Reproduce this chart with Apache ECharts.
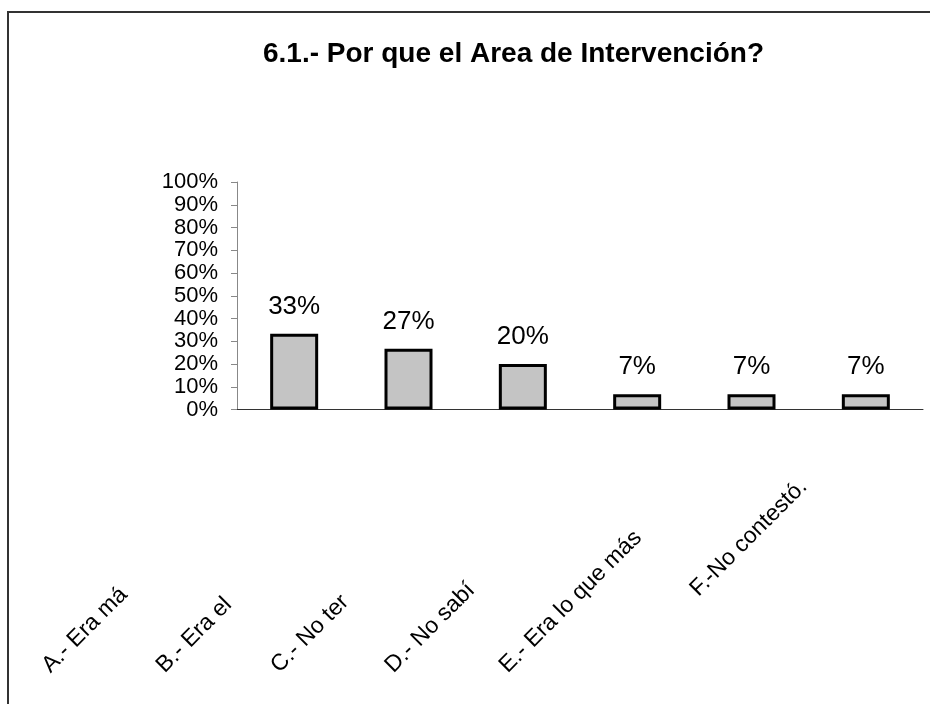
<!DOCTYPE html>
<html lang="es">
<head>
    <meta charset="UTF-8">
    <title>6.1.- Por que el Area de Intervención?</title>
    <style>
        body { margin: 0; background: #fff; }
        #frame {
            position: absolute;
            left: 7px;
            top: 11px;
            width: 940px;
            height: 720px;
            border-left: 2px solid #333;
            border-top: 2px solid #333;
        }
        #chart {
            position: absolute;
            left: 0;
            top: 0;
            width: 930px;
            height: 704px;
        }
    </style>
</head>
<body>
    <div id="frame"></div>
    <div id="chart"></div>
    <script src="https://cdn.jsdelivr.net/npm/echarts@6/dist/echarts.min.js"></script>
    <script>
        var titleText = '6.1.- Por que el Area de Intervención?';
        var categories = ['A.- Era má', 'B.- Era el', 'C.- No ter', 'D.- No sabí', 'E.- Era lo que más', 'F.-No contestó.'];
        var percents = [33.3, 26.7, 20.0, 6.7, 6.7, 6.7];
        var yTicks = [0, 10, 20, 30, 40, 50, 60, 70, 80, 90, 100];

        var font = '"Liberation Sans", Arial, sans-serif';
        var chart = echarts.init(document.getElementById('chart'));

        var option = {
            animation: false,
            textStyle: { fontFamily: font },
            title: {
                text: titleText,
                left: 263,
                top: 40,
                padding: 0,
                textStyle: { fontFamily: font, fontSize: 28, fontWeight: 'bold', color: '#000' }
            },
            grid: [
                { left: 237, right: 7, top: 182, bottom: 294.5 },
                // label strip: category points sit where each rotated label starts
                { left: 46, width: 571.7, top: 603, height: 60 }
            ],
            xAxis: [
                {
                    type: 'category',
                    gridIndex: 0,
                    data: categories,
                    axisLine: { lineStyle: { color: '#333', width: 1 } },
                    axisTick: { length: 9, lineStyle: { color: '#333' } },
                    axisLabel: { show: false }
                },
                {
                    type: 'category',
                    gridIndex: 1,
                    data: categories,
                    boundaryGap: false,
                    axisLine: { show: false },
                    axisTick: { show: false },
                    axisLabel: {
                        interval: 0,
                        rotate: 45,
                        align: 'left',
                        verticalAlign: 'middle',
                        margin: 6,
                        fontSize: 23,
                        color: '#000',
                        formatter: function (v, i) {
                            return i === 5 ? '{f|' + v + '}' : v;
                        },
                        rich: {
                            f: { fontSize: 23, color: '#000', padding: [0, 0, 0, 108] }
                        }
                    }
                }
            ],
            yAxis: [
                {
                    type: 'value',
                    gridIndex: 0,
                    min: yTicks[0],
                    max: yTicks[yTicks.length - 1],
                    interval: 10,
                    axisLine: { show: true, lineStyle: { color: '#888', width: 1 } },
                    axisTick: { show: true, inside: false, length: 6, lineStyle: { color: '#888' } },
                    splitLine: { show: false },
                    axisLabel: {
                        margin: 19,
                        fontSize: 22,
                        color: '#000',
                        formatter: '{value}%'
                    }
                },
                {
                    type: 'value',
                    gridIndex: 1,
                    show: false
                }
            ],
            series: [{
                type: 'bar',
                xAxisIndex: 0,
                yAxisIndex: 0,
                data: percents,
                barWidth: 48,
                itemStyle: {
                    color: '#c4c4c4',
                    borderColor: '#000',
                    borderWidth: 3
                },
                label: {
                    show: true,
                    position: 'top',
                    distance: 14,
                    fontSize: 26,
                    color: '#000',
                    formatter: function (p) {
                        return Math.round(p.value) + '%';
                    }
                }
            }]
        };

        chart.setOption(option);
    </script>
</body>
</html>
